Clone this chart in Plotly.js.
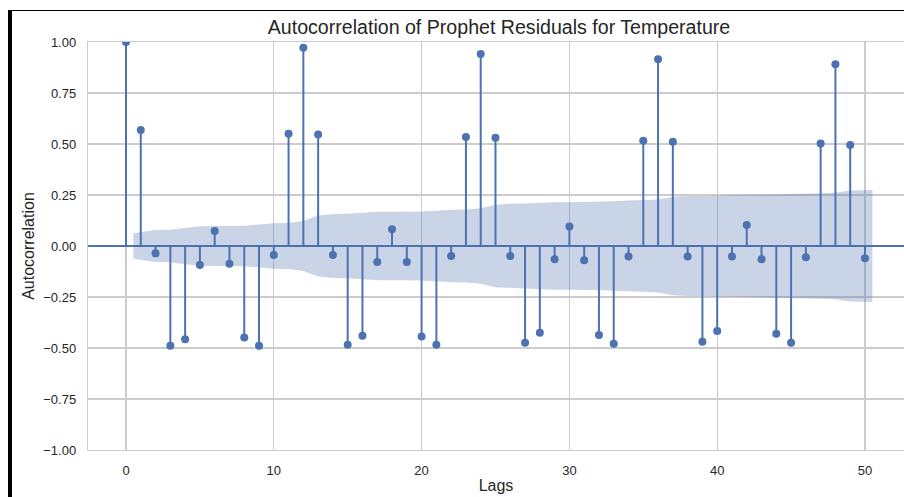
<!DOCTYPE html>
<html>
<head>
<meta charset="utf-8">
<script src="https://cdn.plot.ly/plotly-3.0.1.min.js"></script>
<style>
  html, body { margin: 0; padding: 0; background: #fff; }
  #wrap { position: relative; width: 904px; height: 497px; overflow: hidden; }
  #chart { position: absolute; left: 0; top: 0; width: 904px; height: 497px; }
  #bl { position: absolute; left: 8px; top: 10px; width: 4px; height: 487px; background: #000; z-index: 5; }
  #bt { position: absolute; left: 8px; top: 10px; width: 896px; height: 1px; background: #000; z-index: 5; }
</style>
</head>
<body>
<div id="wrap">
  <div id="chart"></div>
  <div id="bl"></div>
  <div id="bt"></div>
</div>
<script>
// Lags 0..50
const lags = [0,1,2,3,4,5,6,7,8,9,10,11,12,13,14,15,16,17,18,19,20,21,22,23,24,25,26,27,28,29,30,31,32,33,34,35,36,37,38,39,40,41,42,43,44,45,46,47,48,49,50];

// Autocorrelation values
const acfValues = [
  1.00, 0.569, -0.036, -0.489, -0.457, -0.093, 0.074, -0.087, -0.449, -0.489,
  -0.044, 0.550, 0.972, 0.547, -0.044, -0.484, -0.440, -0.078, 0.082, -0.078,
  -0.444, -0.484, -0.049, 0.534, 0.941, 0.531, -0.049, -0.474, -0.425, -0.065,
  0.095, -0.070, -0.436, -0.479, -0.052, 0.516, 0.915, 0.511, -0.052, -0.469,
  -0.417, -0.052, 0.103, -0.065, -0.430, -0.474, -0.055, 0.503, 0.891, 0.495,
  -0.060
];

// Confidence band x positions (first and last extended by half a lag)
const bandX = [0.5,2,3,4,5,6,7,8,9,10,11,12,13,14,15,16,17,18,19,20,21,22,23,24,25,26,27,28,29,30,31,32,33,34,35,36,37,38,39,40,41,42,43,44,45,46,47,48,49,50.5];

// Confidence band half-widths for lags 1..50
const bandHalf = [
  0.062, 0.079, 0.080, 0.089, 0.097, 0.098, 0.098, 0.099, 0.105, 0.112,
  0.113, 0.123, 0.149, 0.157, 0.158, 0.163, 0.168, 0.168, 0.168, 0.169,
  0.173, 0.178, 0.179, 0.185, 0.202, 0.207, 0.208, 0.212, 0.215, 0.215,
  0.216, 0.216, 0.219, 0.223, 0.224, 0.228, 0.241, 0.245, 0.245, 0.248,
  0.250, 0.251, 0.251, 0.252, 0.254, 0.257, 0.258, 0.261, 0.272, 0.275
];

const yTicks = [-1, -0.75, -0.5, -0.25, 0, 0.25, 0.5, 0.75, 1];
const yTickText = ['−1.00','−0.75','−0.50','−0.25','0.00','0.25','0.50','0.75','1.00'];
const xTicks = [0, 10, 20, 30, 40, 50];

const blue = '#4c72b0';

// Band polygon
const polyX = bandX.concat(bandX.slice().reverse());
const polyY = bandHalf.concat(bandHalf.slice().reverse().map(v => -v));

// Stems
const stemX = [], stemY = [];
lags.forEach((l, i) => { stemX.push(l, l, null); stemY.push(0, acfValues[i], null); });

const traces = [
  { x: polyX, y: polyY, type: 'scatter', mode: 'lines', fill: 'toself',
    fillcolor: 'rgba(76,114,176,0.3)', line: { width: 0 }, hoverinfo: 'skip' },
  { x: stemX, y: stemY, type: 'scatter', mode: 'lines',
    line: { color: blue, width: 2 }, hoverinfo: 'skip' },
  { x: lags, y: acfValues, type: 'scatter', mode: 'markers',
    marker: { color: blue, size: 8 } }
];

const font = 'Liberation Sans, Arial, Helvetica, sans-serif';

const layout = {
  width: 904, height: 497,
  margin: { l: 88, r: 0, t: 42, b: 47, pad: 0 },
  paper_bgcolor: '#ffffff', plot_bgcolor: '#ffffff',
  showlegend: false,
  font: { family: font, color: '#262626' },
  title: { text: 'Autocorrelation of Prophet Residuals for Temperature',
    font: { family: font, size: 19.6, color: '#262626' },
    x: 0.552, xanchor: 'center', xref: 'container',
    y: 1 - 27 / 497, yanchor: 'middle', yref: 'container' },
  xaxis: {
    range: [-2.571, 52.64], tickvals: xTicks, ticktext: xTicks.map(String),
    showgrid: true, gridcolor: '#cccccc', gridwidth: 1.2,
    zeroline: false, showline: true, linecolor: '#cccccc', linewidth: 1.2, mirror: true,
    ticks: '', ticklabelstandoff: 8,
    tickfont: { family: font, size: 13, color: '#262626' },
    title: { text: 'Lags', font: { family: font, size: 16, color: '#262626' }, standoff: 3 },
    automargin: false, fixedrange: true
  },
  yaxis: {
    range: [-1, 1], tickvals: yTicks, ticktext: yTickText,
    showgrid: true, gridcolor: '#cccccc', gridwidth: 1.2,
    zeroline: true, zerolinecolor: blue, zerolinewidth: 1.8,
    showline: true, linecolor: '#cccccc', linewidth: 1.2, mirror: false,
    ticks: '', ticklabelstandoff: 8,
    tickfont: { family: font, size: 13, color: '#262626' },
    title: { text: 'Autocorrelation', font: { family: font, size: 16, color: '#262626' }, standoff: 4 },
    automargin: false, fixedrange: true
  }
};

Plotly.newPlot('chart', traces, layout, { staticPlot: true, displayModeBar: false });
</script>
</body>
</html>
